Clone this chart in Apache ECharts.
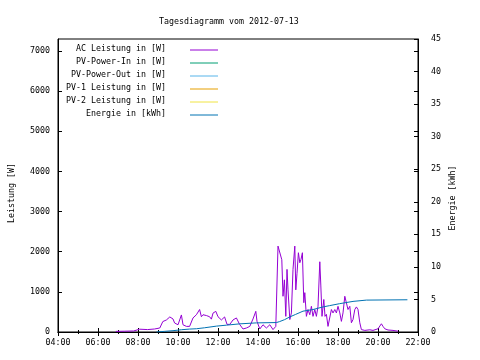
<!DOCTYPE html>
<html><head><meta charset="utf-8">
<script src="https://cdn.jsdelivr.net/npm/echarts@6/dist/echarts.min.js"></script>
<style>html,body{margin:0;padding:0;background:#fff}#c{width:480px;height:360px}</style>
</head><body><div id="c"></div>
<script>
const titleText = 'Tagesdiagramm vom 2012-07-13';
const seriesNames = ['AC Leistung in [W]','PV-Power-In in [W]','PV-Power-Out in [W]','PV-1 Leistung in [W]','PV-2 Leistung in [W]','Energie in [kWh]'];
const seriesColors = ['#9400d3','#009e73','#56b4e9','#e69f00','#f0e442','#0072b2'];
const xTickHours = [4,6,8,10,12,14,16,18,20,22];
// hour of day
const acHours = [6.89,7.33,7.78,8.08,8.48,8.83,9.09,9.24,9.42,9.59,9.75,9.83,10.0,10.17,10.25,10.42,10.58,10.75,10.92,11.08,11.17,11.25,11.42,11.58,11.67,11.75,11.89,12.0,12.17,12.33,12.45,12.59,12.75,12.92,13.08,13.25,13.42,13.59,13.75,13.89,13.95,14.09,14.25,14.42,14.59,14.75,14.89,15.0,15.09,15.19,15.25,15.32,15.39,15.45,15.5,15.59,15.67,15.75,15.84,15.89,15.95,16.02,16.09,16.15,16.22,16.29,16.34,16.42,16.5,16.59,16.67,16.75,16.84,16.92,17.0,17.09,17.14,17.2,17.29,17.35,17.42,17.5,17.67,17.75,17.84,17.92,18.0,18.09,18.17,18.25,18.34,18.42,18.5,18.59,18.67,18.75,18.84,18.92,19.0,19.09,19.17,19.34,19.59,19.75,20.0,20.17,20.25,20.34,20.5,20.75,21.0];
const acWatts = [15,20,25,70,60,75,100,260,300,375,325,225,180,425,180,140,140,350,430,560,380,430,410,380,320,470,515,380,300,375,190,190,300,350,190,75,100,140,325,515,265,75,180,100,180,60,140,2140,2100,1800,890,1300,390,1560,1050,310,475,1560,2140,1050,1460,1975,1725,1810,1975,730,980,390,560,430,640,390,560,390,640,1750,1170,390,810,390,440,140,560,475,560,475,640,475,265,475,890,850,560,640,230,310,560,625,560,230,60,40,55,40,80,205,140,80,50,40,20];
const pvInWatts = [];
const pvOutWatts = [];
const pv1Watts = [];
const pv2Watts = [];
const energyHours = [8.92,9.33,9.75,10.17,10.58,10.92,11.33,11.92,12.42,13.08,13.92,14.92,15.08,15.33,15.58,15.88,16.25,16.75,17.25,17.58,18.08,18.75,19.42,21.47];
const energyKWh = [0,0.1,0.2,0.35,0.45,0.5,0.65,0.9,1.05,1.25,1.4,1.45,1.6,1.9,2.3,2.7,3.2,3.45,3.85,4.05,4.35,4.7,4.9,4.95];

const zip = (a,b)=>a.map((v,i)=>[v,b[i]]);
const F = 'DejaVu Sans Mono';
const fs = 8.3;
const chart = echarts.init(document.getElementById('c'), null, {renderer:'canvas'});
const pad2 = n => (n<10?'0':'')+n;
const tickOnly = {show:true,inside:true,length:4,lineStyle:{color:'#000',width:1}};
const minorOnly = {show:true,splitNumber:2,length:2,lineStyle:{color:'#000',width:1}};

const legendGraphics = [];
seriesNames.forEach((n,i)=>{
  const y = 49.5 + i*13;
  legendGraphics.push({type:'text',right:480-166,top:y-5,style:{text:n,font:fs+'px "'+F+'"',fill:'#000',textAlign:'right'}});
  legendGraphics.push({type:'line',shape:{x1:190,y1:y+0.5,x2:218,y2:y+0.5},style:{stroke:seriesColors[i],lineWidth:1}});
});

const wattSeries = [acWatts,pvInWatts,pvOutWatts,pv1Watts,pv2Watts];
const series = wattSeries.map((arr,i)=>({
  name:seriesNames[i],type:'line',xAxisIndex:0,yAxisIndex:0,
  data: i===0 ? zip(acHours,arr) : arr,
  showSymbol:false,symbol:'none',lineStyle:{color:seriesColors[i],width:1},itemStyle:{color:seriesColors[i]},
  animation:false,silent:true,z:2
}));
series.push({name:seriesNames[5],type:'line',xAxisIndex:0,yAxisIndex:1,data:zip(energyHours,energyKWh),
  showSymbol:false,symbol:'none',lineStyle:{color:seriesColors[5],width:1},itemStyle:{color:seriesColors[5]},animation:false,silent:true,z:3});

chart.setOption({
  animation:false,
  backgroundColor:'#fff',
  title:{text:titleText,left:154,top:13,textStyle:{fontFamily:F,fontSize:fs,fontWeight:'normal',color:'#000'}},
  grid:{left:58,right:62,top:39,bottom:28,show:true,borderColor:'#000',borderWidth:1,backgroundColor:'transparent'},
  xAxis:[
    {type:'value',min:4,max:22,interval:2,position:'bottom',
     axisLine:{show:true,lineStyle:{color:'#000',width:1}},axisTick:tickOnly,minorTick:minorOnly,splitLine:{show:false},
     axisLabel:{margin:7,fontFamily:F,fontSize:fs,color:'#000',formatter:v=>pad2(Math.round(v))+':00'}},
    {type:'value',min:4,max:22,interval:2,position:'top',
     axisLine:{show:true,lineStyle:{color:'#000',width:1}},axisTick:tickOnly,minorTick:minorOnly,splitLine:{show:false},axisLabel:{show:false}}
  ],
  yAxis:[
    {type:'value',min:0,max:7300,interval:1000,position:'left',
     axisLine:{show:true,lineStyle:{color:'#000',width:1}},axisTick:tickOnly,splitLine:{show:false},
     axisLabel:{margin:8,showMaxLabel:false,fontFamily:F,fontSize:fs,color:'#000',formatter:v=>String(v)}},
    {type:'value',min:0,max:45,interval:5,position:'right',
     axisLine:{show:true,lineStyle:{color:'#000',width:1}},axisTick:tickOnly,splitLine:{show:false},
     axisLabel:{margin:13,fontFamily:F,fontSize:fs,color:'#000',formatter:v=>String(v)}},
    {type:'value',min:0,max:7300,interval:1000,position:'right',offset:0,
     axisLine:{show:false},axisTick:tickOnly,splitLine:{show:false},axisLabel:{show:false}}
  ],
  graphic:[
    {type:'text',x:12,y:193,rotation:Math.PI/2,style:{text:'Leistung [W]',font:fs+'px "'+F+'"',fill:'#000',textAlign:'center',textVerticalAlign:'middle'}},
    {type:'text',x:453,y:198,rotation:Math.PI/2,style:{text:'Energie [kWh]',font:fs+'px "'+F+'"',fill:'#000',textAlign:'center',textVerticalAlign:'middle'}}
  ].concat(legendGraphics),
  series:series
});
</script></body></html>
